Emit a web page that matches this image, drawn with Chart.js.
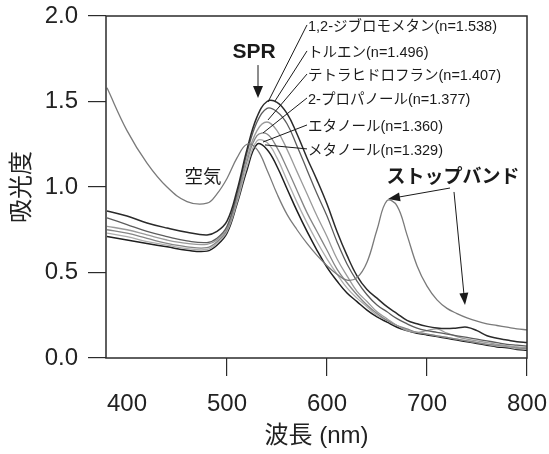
<!DOCTYPE html>
<html><head><meta charset="utf-8">
<script src="https://cdn.jsdelivr.net/npm/chart.js@4/dist/chart.umd.min.js"></script>
<style>html,body{margin:0;padding:0;background:#fff}</style>
</head><body>
<canvas id="c" width="549" height="454"></canvas>
<script>
// ---- data ----
const wavelengths = [380,400,420,440,460,480,490,500,510,520,530,540,550,560,570,580,590,600,610,620,630,640,650,660,670,680,690,700,710,720,730,740,750,760,770,780,790,800];
const air = [1.58,1.33,1.14,1.00,0.915,0.905,0.96,1.05,1.17,1.25,1.22,1.10,0.96,0.84,0.75,0.67,0.60,0.54,0.49,0.455,0.47,0.56,0.75,0.92,0.89,0.72,0.54,0.42,0.34,0.29,0.26,0.235,0.215,0.20,0.19,0.18,0.17,0.165];
const dibromomethane = [0.86,0.83,0.79,0.76,0.735,0.72,0.74,0.80,0.98,1.22,1.41,1.50,1.495,1.43,1.31,1.17,1.04,0.90,0.74,0.60,0.48,0.40,0.35,0.30,0.26,0.22,0.20,0.185,0.175,0.172,0.176,0.18,0.16,0.13,0.115,0.105,0.095,0.09];
const toluene = [0.82,0.78,0.74,0.71,0.685,0.675,0.70,0.77,0.96,1.20,1.38,1.46,1.44,1.37,1.24,1.10,0.96,0.83,0.68,0.55,0.45,0.37,0.31,0.27,0.23,0.20,0.175,0.16,0.15,0.14,0.13,0.12,0.11,0.10,0.09,0.08,0.075,0.07];
const thf = [0.77,0.75,0.72,0.69,0.67,0.665,0.69,0.76,0.94,1.17,1.33,1.38,1.33,1.22,1.09,0.96,0.83,0.71,0.58,0.48,0.39,0.33,0.27,0.23,0.19,0.16,0.15,0.16,0.17,0.145,0.125,0.11,0.10,0.09,0.08,0.07,0.065,0.06];
const propanol = [0.75,0.73,0.70,0.67,0.65,0.645,0.68,0.75,0.93,1.15,1.30,1.31,1.23,1.11,0.98,0.85,0.74,0.63,0.52,0.44,0.37,0.31,0.26,0.22,0.19,0.17,0.15,0.14,0.13,0.12,0.11,0.10,0.09,0.08,0.075,0.07,0.06,0.055];
const ethanol = [0.73,0.71,0.68,0.66,0.64,0.635,0.67,0.74,0.91,1.12,1.27,1.26,1.17,1.04,0.91,0.79,0.68,0.58,0.49,0.41,0.35,0.30,0.25,0.22,0.19,0.165,0.15,0.14,0.13,0.12,0.11,0.10,0.09,0.08,0.07,0.065,0.055,0.05];
const methanol = [0.71,0.69,0.67,0.65,0.63,0.625,0.66,0.73,0.90,1.10,1.25,1.22,1.12,0.99,0.86,0.74,0.63,0.53,0.45,0.38,0.33,0.28,0.24,0.21,0.18,0.16,0.145,0.135,0.125,0.115,0.105,0.095,0.085,0.075,0.065,0.06,0.05,0.045];
const xTicks = [400,500,600,700,800];
const yTicks = [0,0.5,1.0,1.5,2.0];
const seriesNames = ['空気','1,2-ジブロモメタン(n=1.538)','トルエン(n=1.496)','テトラヒドロフラン(n=1.407)','2-プロパノール(n=1.377)','エタノール(n=1.360)','メタノール(n=1.329)'];

// ---- styles ----
const seriesValues = [air, dibromomethane, toluene, thf, propanol, ethanol, methanol];
const seriesColors = ['#7a7a7a','#2a2a2a','#5c5c5c','#9a9a9a','#858585','#adadad','#1e1e1e'];
const seriesWidths = [1.3,1.5,1.3,1.3,1.3,1.3,1.5];

const datasets = seriesValues.map((vals,i)=>({
  label: seriesNames[i],
  data: wavelengths.map((w,j)=>({x:w,y:vals[j]})),
  borderColor: seriesColors[i],
  borderWidth: seriesWidths[i],
  pointRadius: 0,
  tension: 0.4,
  fill: false
}));

const FONT = "'Liberation Sans','Noto Sans CJK JP',Arial,sans-serif";

// annotation placement (data coordinates)
const labelX = 580;
const labelY = [1.936,1.784,1.649,1.509,1.351,1.211];
const leaderEnds = [[541,1.497],[548,1.503],[541,1.392],[536,1.316],[536,1.263],[538,1.246]];

function arrow(ctx, x1,y1,x2,y2, hl, hw){
  const a = Math.atan2(y2-y1,x2-x1);
  ctx.beginPath(); ctx.moveTo(x1,y1);
  ctx.lineTo(x2 - hl*0.8*Math.cos(a), y2 - hl*0.8*Math.sin(a)); ctx.stroke();
  ctx.beginPath();
  ctx.moveTo(x2,y2);
  ctx.lineTo(x2 - hl*Math.cos(a) + hw*Math.sin(a), y2 - hl*Math.sin(a) - hw*Math.cos(a));
  ctx.lineTo(x2 - hl*Math.cos(a) - hw*Math.sin(a), y2 - hl*Math.sin(a) + hw*Math.cos(a));
  ctx.closePath(); ctx.fill();
}

const annot = {
  id:'annot',
  afterDatasetsDraw(chart){
    const {ctx, chartArea:a, scales:{x,y}} = chart;
    const X=v=>x.getPixelForValue(v), Y=v=>y.getPixelForValue(v);
    ctx.save();
    ctx.strokeStyle='#2b2b2b'; ctx.lineWidth=1.5;
    ctx.strokeRect(a.left, a.top, a.right-a.left, a.bottom-a.top);
    ctx.fillStyle='#1a1a1a'; ctx.strokeStyle='#1a1a1a'; ctx.lineWidth=1;
    ctx.font = "14.5px "+FONT; ctx.textAlign='left'; ctx.textBaseline='middle';
    for(let i=0;i<6;i++){
      ctx.fillText(seriesNames[i+1], X(labelX)+1, Y(labelY[i]));
      ctx.beginPath(); ctx.moveTo(X(labelX), Y(labelY[i])-2);
      ctx.lineTo(X(leaderEnds[i][0]), Y(leaderEnds[i][1])); ctx.stroke();
    }
    ctx.font = "bold 21px "+FONT; ctx.textAlign='center';
    ctx.fillText('SPR', X(527), Y(1.789));
    arrow(ctx, X(531), Y(1.713), X(531), Y(1.52), 12, 5);
    ctx.font = "18.5px "+FONT;
    ctx.fillText('空気', X(476), Y(1.053));
    ctx.font = "bold 19px "+FONT;
    ctx.fillText('ストップバンド', X(726), Y(1.053));
    arrow(ctx, X(723), Y(0.994), X(661), Y(0.930), 12, 4.5);
    arrow(ctx, X(727), Y(0.971), X(738), Y(0.310), 12, 4.5);
    ctx.restore();
  }
};

new Chart(document.getElementById('c'), {
  type:'line',
  data:{datasets},
  plugins:[annot],
  options:{
    responsive:false, animation:false,
    layout:{padding:{top:16,right:22,left:0,bottom:0}},
    plugins:{legend:{display:false}, tooltip:{enabled:false}},
    scales:{
      x:{
        type:'linear', min:379, max:800,
        afterBuildTicks:s=>{s.ticks = xTicks.map(v=>({value:v}));},
        afterFit:s=>{s.height=96; s.paddingLeft=0; s.paddingRight=0;},
        border:{display:false},
        grid:{drawOnChartArea:false, drawTicks:true, tickLength:18, lineWidth:1.2,
              color:c=> (c.tick && c.tick.value===400) ? 'rgba(0,0,0,0)' : '#2b2b2b'},
        ticks:{font:{size:24,family:FONT}, color:'#222', padding:14, maxRotation:0, callback:v=>String(v)},
        title:{display:true, text:'波長 (nm)', font:{size:24,family:FONT}, color:'#222', padding:{top:0,bottom:3}}
      },
      y:{
        min:0, max:2,
        afterBuildTicks:s=>{s.ticks = yTicks.map(v=>({value:v}));},
        afterFit:s=>{s.width=106; s.paddingTop=0; s.paddingBottom=0;},
        border:{display:false},
        grid:{drawOnChartArea:false, drawTicks:true, tickLength:18, lineWidth:1.2, color:'#2b2b2b'},
        ticks:{font:{size:24,family:FONT}, color:'#222', padding:10, callback:v=>Number(v).toFixed(1)},
        title:{display:true, text:'吸光度', font:{size:24,family:FONT}, color:'#222', padding:{top:8,bottom:0}}
      }
    }
  }
});
</script>
</body></html>
